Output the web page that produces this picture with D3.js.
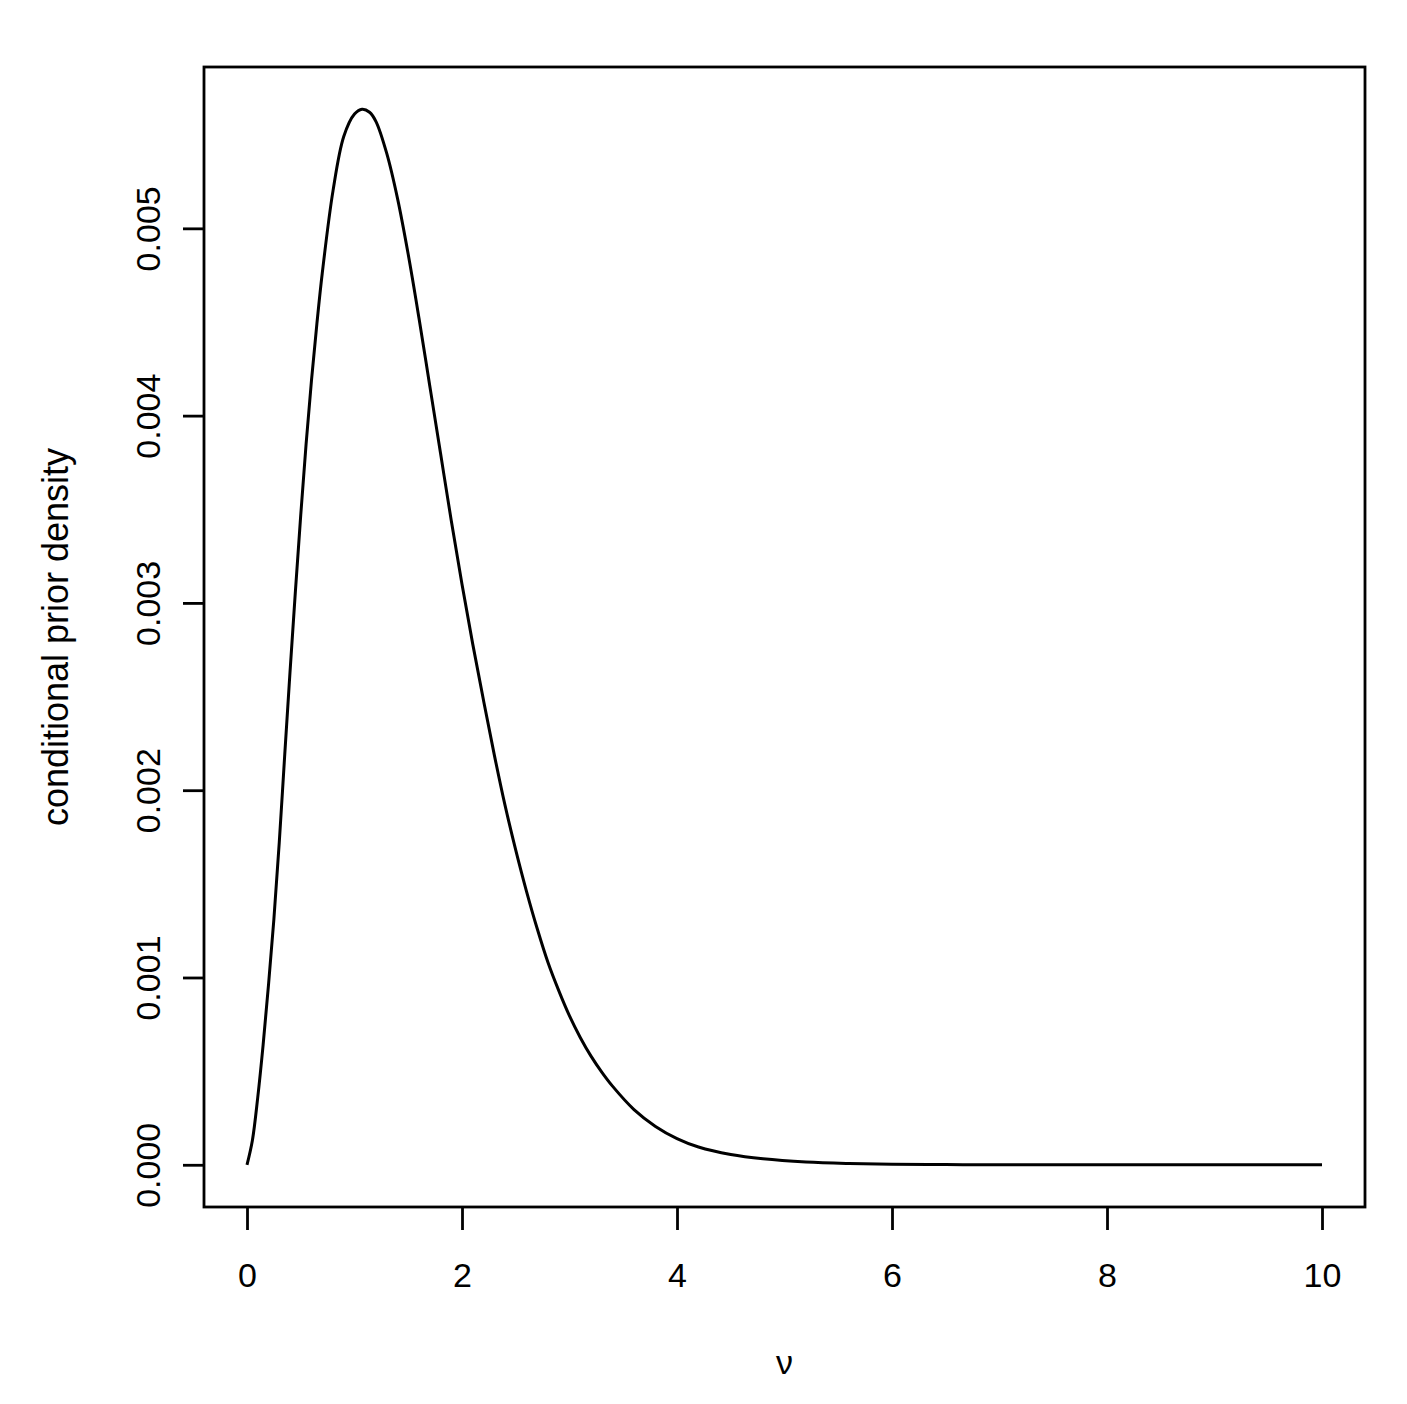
<!DOCTYPE html>
<html>
<head>
<meta charset="utf-8">
<script src="https://cdn.jsdelivr.net/npm/d3@7"></script>
<style>
  body { margin: 0; background: #fff; }
  text { font-family: "Liberation Sans", Arial, sans-serif; fill: #000; }
</style>
</head>
<body>
<div id="chart"></div>
<script>
// values
const nu = [0, 0.05, 0.1, 0.15, 0.2, 0.25, 0.3, 0.35, 0.4, 0.45, 0.5, 0.55, 0.6, 0.65, 0.7,
  0.8, 0.9, 1.0, 1.07, 1.14, 1.2, 1.3, 1.4, 1.5, 1.6, 1.7, 1.8, 1.9, 2.0, 2.1, 2.2, 2.3, 2.4,
  2.5, 2.6, 2.7, 2.8, 2.9, 3.0, 3.1, 3.2, 3.3, 3.4, 3.6, 3.8, 4.0, 4.2, 4.5, 4.8, 5.2, 5.6,
  6.0, 6.5, 7, 8, 9, 10];
const density = [0, 0.00013, 0.00036, 0.00064, 0.00096, 0.00131, 0.00172, 0.00218, 0.00263,
  0.00306, 0.00347, 0.00385, 0.00419, 0.00449, 0.00476,
  0.0052, 0.00549, 0.00561, 0.005636, 0.00562, 0.00557, 0.0054, 0.00516, 0.00486, 0.00452,
  0.00416, 0.0038, 0.00344, 0.0031, 0.00278, 0.00248, 0.00219, 0.00192,
  0.00168, 0.00146, 0.00126, 0.00108, 0.00093, 0.000795, 0.00068, 0.00058, 0.000495, 0.00042,
  0.000295, 0.000205, 0.00014, 0.000095, 0.000055, 0.000032, 0.000015, 0.000007,
  0.000003, 0.000001, 0, 0, 0, 0];
const xTicks = [0, 2, 4, 6, 8, 10];
const yTicks = [0, 0.001, 0.002, 0.003, 0.004, 0.005];

const W = 1407, H = 1404;
const box = { left: 204, right: 1365, top: 67, bottom: 1207 };

const svg = d3.select('#chart').append('svg')
  .attr('width', W).attr('height', H);

svg.append('rect').attr('width', W).attr('height', H).attr('fill', '#fff');

// R style 4% padding on both axes
const xMax = d3.max(nu), yMax = d3.max(density);
const x = d3.scaleLinear()
  .domain([-0.04 * xMax, 1.04 * xMax])
  .range([box.left, box.right]);
const y = d3.scaleLinear()
  .domain([-0.04 * yMax, 1.04 * yMax])
  .range([box.bottom, box.top]);

const pts = nu.map((v, i) => ({ x: v, y: density[i] }));

const line = d3.line()
  .x(d => x(d.x))
  .y(d => y(d.y))
  .curve(d3.curveCatmullRom.alpha(0.5));

svg.append('path')
  .datum(pts)
  .attr('d', line)
  .attr('fill', 'none')
  .attr('stroke', '#000')
  .attr('stroke-width', 3)
  .attr('stroke-linejoin', 'round');

svg.append('rect')
  .attr('x', box.left).attr('y', box.top)
  .attr('width', box.right - box.left)
  .attr('height', box.bottom - box.top)
  .attr('fill', 'none')
  .attr('stroke', '#000')
  .attr('stroke-width', 2.8);

// x axis
const xAxis = svg.append('g')
  .attr('transform', `translate(0, ${box.bottom})`)
  .call(d3.axisBottom(x).tickValues(xTicks).tickSize(23).tickFormat(d3.format('d')));
xAxis.select('.domain').remove();
xAxis.selectAll('line').attr('stroke-width', 2.8);
xAxis.selectAll('text')
  .attr('font-size', 34)
  .attr('font-family', '"Liberation Sans", Arial, sans-serif')
  .attr('dy', null)
  .attr('y', 80);

// y axis
const yAxis = svg.append('g')
  .attr('transform', `translate(${box.left}, 0)`)
  .call(d3.axisLeft(y).tickValues(yTicks).tickSize(21).tickFormat(d3.format('.3f')));
yAxis.select('.domain').remove();
yAxis.selectAll('line').attr('stroke-width', 2.8);
yAxis.selectAll('text')
  .attr('font-size', 34)
  .attr('font-family', '"Liberation Sans", Arial, sans-serif')
  .attr('x', null).attr('dy', null)
  .attr('text-anchor', 'middle')
  .attr('transform', 'translate(-44, 0) rotate(-90)');

// axis titles
svg.append('text')
  .attr('x', (box.left + box.right) / 2)
  .attr('y', 1374)
  .attr('text-anchor', 'middle')
  .attr('font-family', '"DejaVu Serif", "Liberation Serif", serif')
  .attr('font-size', 34)
  .text('ν');

svg.append('text')
  .attr('transform', `translate(68, ${(box.top + box.bottom) / 2}) rotate(-90)`)
  .attr('text-anchor', 'middle')
  .attr('font-size', 36)
  .text('conditional prior density');
</script>
</body>
</html>
